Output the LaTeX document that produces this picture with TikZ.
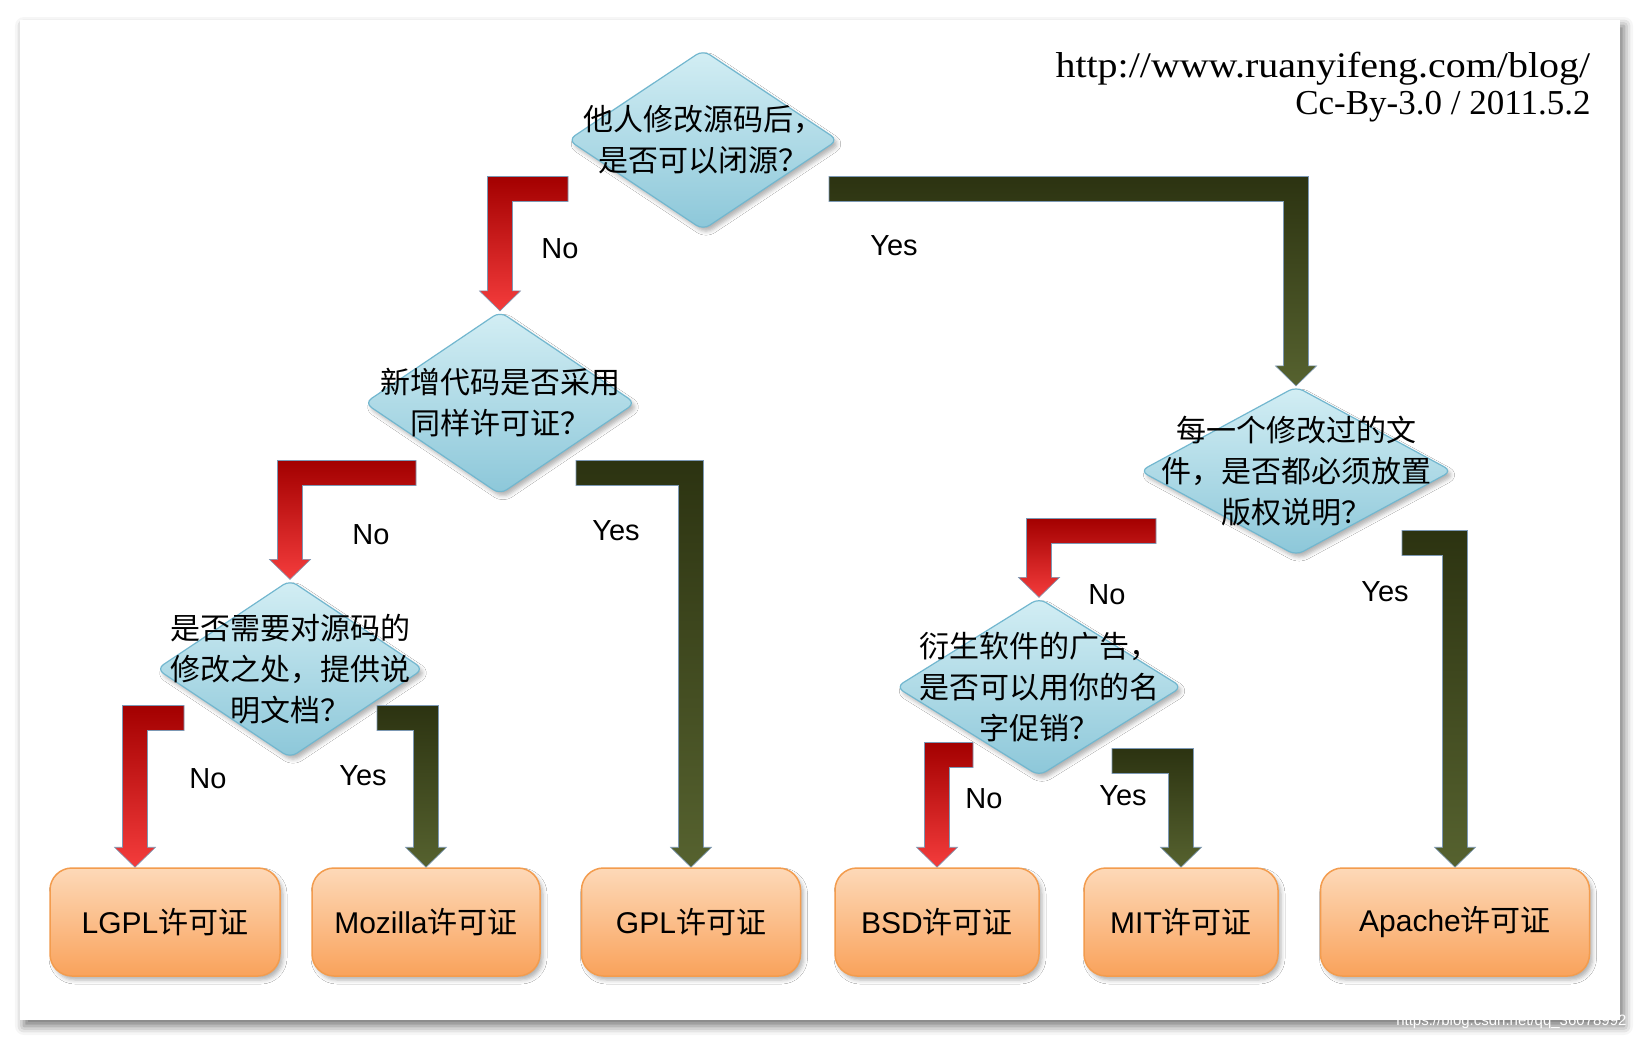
\documentclass[tikz,border=0pt]{standalone}
\usepackage{fontspec}
\setmainfont{Liberation Sans}
\newfontfamily\cjk{Noto Sans CJK SC}
\newfontfamily\urlfont{Liberation Serif}
\usepackage{tikz}
\usetikzlibrary{positioning,calc,shapes.geometric,shadows.blur}
\definecolor{DiamondTop}{HTML}{D3EEF4}
\definecolor{DiamondBottom}{HTML}{8CC7D9}
\definecolor{DiamondEdge}{HTML}{72B7CF}
\definecolor{BoxTop}{HTML}{FDD9B8}
\definecolor{BoxBottom}{HTML}{F9A25B}
\definecolor{BoxEdge}{HTML}{F39C4E}
\definecolor{RedTop}{HTML}{A30000}
\definecolor{RedBottom}{HTML}{F43C3C}
\definecolor{GreenTop}{HTML}{2C3311}
\definecolor{GreenBottom}{HTML}{56622F}
\definecolor{ArrowEdge}{HTML}{7C98B4}

\tikzset{
  decision/.style={diamond, draw=DiamondEdge, line width=1.2pt, rounded corners=8pt,
    top color=DiamondTop, bottom color=DiamondBottom, inner sep=0pt,
    blur shadow={shadow xshift=3pt, shadow yshift=-4pt, shadow blur radius=4pt, shadow opacity=30}},
  question/.style={font={\cjk\fontsize{30}{41}\selectfont}, align=center, inner sep=0pt},
  licence/.style={rectangle, rounded corners=22pt, draw=BoxEdge, line width=1.5pt,
    top color=BoxTop, bottom color=BoxBottom, minimum height=108pt,
    font=\fontsize{30}{36}\selectfont,
    blur shadow={shadow xshift=3pt, shadow yshift=-4pt, shadow blur radius=4pt, shadow opacity=30}},
  answer/.style={font=\fontsize{29}{34}\selectfont},
  noarrow/.style={top color=RedTop, bottom color=RedBottom, draw=ArrowEdge, line width=0.6pt},
  yesarrow/.style={top color=GreenTop, bottom color=GreenBottom, draw=ArrowEdge, line width=0.6pt},
}

% block arrow: bar from #2 to the shaft, shaft down to the tip #3
\newcommand{\bentarrow}[3]{%
  \path[#1] let \p1=(#2), \p2=(#3),
      \p3=($(\x2,0pt)!12.5pt!(\x1,0pt)$), \p4=($(\x2,0pt)!20.5pt!(\x1,0pt)$) in
    (\x1,\y1+12.5pt) -- (2*\x2-\x3,\y1+12.5pt) -- (2*\x2-\x3,\y2+20pt)
    -- (2*\x2-\x4,\y2+20pt) -- (\x2,\y2) -- (\x4,\y2+20pt) -- (\x3,\y2+20pt)
    -- (\x3,\y1-12.5pt) -- (\x1,\y1-12.5pt) -- cycle;}

\begin{document}
\begin{tikzpicture}[x=1pt, y=-1pt]
  \useasboundingbox (0,0) rectangle (1640,1040);
  \fill[white, blur shadow={shadow xshift=4pt, shadow yshift=-6pt, shadow blur radius=9pt, shadow opacity=55}]
    (20,20) rectangle (1620,1020);

  % questions
  \node[decision, minimum width=270pt, minimum height=180pt] (d1) at (703,140) {};
  \node[decision, minimum width=271pt, minimum height=183pt] (d2) at (500,403) {};
  \node[decision, minimum width=267pt, minimum height=178pt] (d3) at (290,669) {};
  \node[decision, minimum width=312pt, minimum height=169pt] (d4) at (1296,471) {};
  \node[decision, minimum width=286pt, minimum height=178pt] (d5) at (1039,687) {};

  % licences
  \node[licence, minimum width=230pt] (lgpl) at (165,922) {LGPL{\cjk 许可证}};
  \node[licence, minimum width=228pt] (mozilla) at (426,922) {Mozilla{\cjk 许可证}};
  \node[licence, minimum width=219pt] (gpl) at (691,922) {GPL{\cjk 许可证}};
  \node[licence, minimum width=204pt] (bsd) at (937,922) {BSD{\cjk 许可证}};
  \node[licence, minimum width=194pt] (mit) at (1181,922) {MIT{\cjk 许可证}};
  \node[licence, minimum width=269pt] (apache) at (1455,922) {Apache{\cjk 许可证}};

  \coordinate (d1no) at (568,189);
  \coordinate (d1yes) at (829,189);
  \coordinate (d2no) at (416,473);
  \coordinate (d2yes) at (576,473);
  \coordinate (d3no) at (184,718);
  \coordinate (d3yes) at (377,718);
  \coordinate (d4no) at (1156,531);
  \coordinate (d4yes) at (1402,543);
  \coordinate (d5no) at (973,755);
  \coordinate (d5yes) at (1112,761);

  \bentarrow{noarrow}{d1no}{d2.north}
  \bentarrow{yesarrow}{d1yes}{d4.north}
  \bentarrow{noarrow}{d2no}{d3.north}
  \bentarrow{yesarrow}{d2yes}{gpl.north}
  \bentarrow{noarrow}{d3no}{$(lgpl.north)+(-30,0)$}
  \bentarrow{yesarrow}{d3yes}{mozilla.north}
  \bentarrow{noarrow}{d4no}{d5.north}
  \bentarrow{yesarrow}{d4yes}{apache.north}
  \bentarrow{noarrow}{d5no}{bsd.north}
  \bentarrow{yesarrow}{d5yes}{mit.north}

  \node[question] (q1) at (d1) {他人修改源码后，\\是否可以闭源？};
  \node[question] (q2) at (d2) {新增代码是否采用\\同样许可证？};
  \node[question] (q3) at (d3) {是否需要对源码的\\修改之处，提供说\\明文档？};
  \node[question] (q4) at (d4) {每一个修改过的文\\件，是否都必须放置\\版权说明？};
  \node[question] (q5) at (d5) {衍生软件的广告，\\是否可以用你的名\\字促销？};

  \node[answer] (no1) at (560,249) {No};
  \node[answer] (yes1) at (894,246) {Yes};
  \node[answer] (no2) at (371,535) {No};
  \node[answer] (yes2) at (616,531) {Yes};
  \node[answer] (no3) at (208,779) {No};
  \node[answer] (yes3) at (363,776) {Yes};
  \node[answer] (no4) at (1107,595) {No};
  \node[answer] (yes4) at (1385,592) {Yes};
  \node[answer] (no5) at (984,799) {No};
  \node[answer] (yes5) at (1123,796) {Yes};

  \node[font=\urlfont\fontsize{36}{40}\selectfont, anchor=east, xscale=1.11] (url) at (1594,69) {http://www.ruanyifeng.com/blog/};
  \node[font=\urlfont\fontsize{35}{40}\selectfont, anchor=east] (cc) at (1594,107) {Cc-By-3.0 / 2011.5.2};
  \node[font=\fontsize{15}{16}\selectfont, text=white, anchor=east] (mark) at (1630,1022) {https://blog.csdn.net/qq\_36078992};
\end{tikzpicture}
\end{document}
